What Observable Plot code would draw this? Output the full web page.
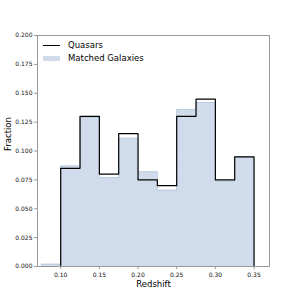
<!DOCTYPE html>
<html><head><meta charset="utf-8">
<script src="https://cdn.jsdelivr.net/npm/d3@7"></script>
<script src="https://cdn.jsdelivr.net/npm/@observablehq/plot@0.6"></script>
<style>
html,body{margin:0;padding:0;background:#fff;}
#chart{position:relative;width:299px;height:299px;}
#legend{position:absolute;left:43px;top:39px;font-family:"DejaVu Sans",sans-serif;font-size:8.5px;color:#000;line-height:13px;z-index:2;}
.row{display:flex;align-items:center;height:13px;}
.sw{width:17px;margin-right:8px;}
</style>
</head><body>
<div id="chart">
<div id="legend">
<div class="row"><div class="sw" style="height:0;border-top:1.3px solid #000"></div>Quasars</div>
<div class="row"><div class="sw" style="height:5px;background:#d0dceb"></div>Matched Galaxies</div>
</div>
</div>
<script>
const quasarEdges = [0.10,0.125,0.15,0.175,0.20,0.225,0.25,0.275,0.30,0.325,0.35];
const quasarFrac  = [0.085,0.130,0.080,0.115,0.075,0.070,0.130,0.145,0.075,0.095];
const galaxyEdges = [0.075,0.10,0.125,0.15,0.175,0.20,0.225,0.25,0.275,0.30,0.325,0.35];
const galaxyFrac  = [0.002,0.087,0.129,0.077,0.111,0.082,0.066,0.136,0.142,0.074,0.095];
const yTicks = [0,0.025,0.05,0.075,0.1,0.125,0.15,0.175,0.2];
const xTicks = [0.10,0.15,0.20,0.25,0.30,0.35];

function stepPts(edges, vals){
  const pts=[{x:edges[0],y:0}];
  vals.forEach((v,i)=>pts.push({x:edges[i],y:v}));
  pts.push({x:edges[edges.length-1],y:vals[vals.length-1]});
  pts.push({x:edges[edges.length-1],y:0});
  return pts;
}
const qPts = stepPts(quasarEdges, quasarFrac);
const gPts = stepPts(galaxyEdges, galaxyFrac);

const plot = Plot.plot({
  width:299, height:299,
  marginLeft:37, marginRight:30, marginTop:35, marginBottom:33,
  style:{fontFamily:"DejaVu Sans, sans-serif", fontSize:"6px", background:"#fff"},
  x:{domain:[0.07,0.37], ticks:xTicks, tickFormat:d3.format(".2f"), label:null, tickSize:3},
  y:{domain:[0,0.2], ticks:yTicks, tickFormat:d3.format(".3f"), label:null, tickSize:3},
  marks:[
    Plot.areaY(gPts,{x:"x",y:"y",curve:"step-after",fill:"#d0dceb"}),
    Plot.lineY(gPts,{x:"x",y:"y",curve:"step-after",stroke:"#bccbe0",strokeWidth:1}),
    Plot.lineY(qPts,{x:"x",y:"y",curve:"step-after",stroke:"#000",strokeWidth:1.2}),
    Plot.frame({stroke:"#999",strokeWidth:1}),
    Plot.axisX({ticks:xTicks,tickFormat:d3.format(".2f"),tickSize:3,stroke:"#999",fill:"#111",label:null,tickPadding:3}),
    Plot.axisY({ticks:yTicks,tickFormat:d3.format(".3f"),tickSize:3,stroke:"#999",fill:"#111",label:null,tickPadding:2}),
    Plot.text(["Redshift"],{frameAnchor:"bottom",dy:20,lineAnchor:"bottom",fontSize:8.5,fill:"#000"}),
    Plot.text(["Fraction"],{frameAnchor:"left",dx:-29,rotate:-90,fontSize:8.5,fill:"#000"})
  ]
});
document.getElementById("chart").prepend(plot);
plot.style.position="absolute";plot.style.left="0";plot.style.top="0";
</script>
</body></html>
